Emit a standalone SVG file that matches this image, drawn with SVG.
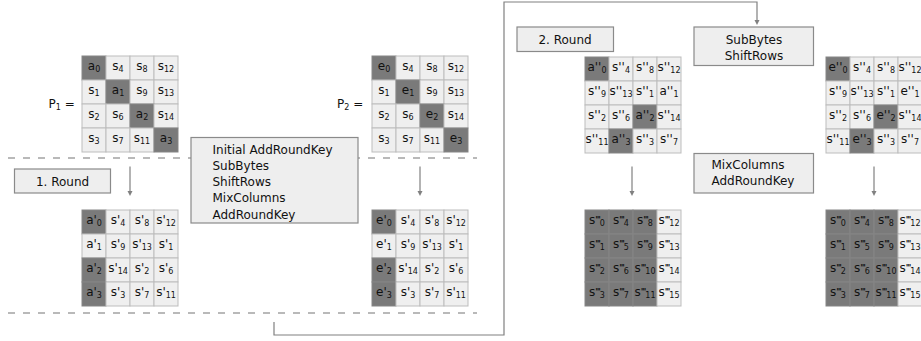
<svg xmlns="http://www.w3.org/2000/svg" width="921" height="341" viewBox="0 0 921 341">
  <style>
    text { font-family: "DejaVu Sans", "Noto Sans", sans-serif; font-size: 12px; fill: #111; }
    .m text { text-anchor: middle; }
    .c { fill: #efefef; stroke: #bdbdbd; stroke-width: 1; }
    .d { fill: #7a7a7a; stroke: #858585; stroke-width: 1; }
    .b { font-size: 8px; }
    .p { font-size: 8.5px; letter-spacing: -1.1px; font-weight: bold; }
    .box { fill: #eeeeee; stroke: #8a8a8a; stroke-width: 1.2; }
    .dash { stroke: #a3a3a3; stroke-width: 1.3; stroke-dasharray: 7 8; fill: none; }
    .ln { stroke: #808080; stroke-width: 1.2; fill: none; }
    .ah { fill: #808080; }
  </style>

  <!-- round separators -->
  <line class="dash" x1="8" y1="158" x2="477" y2="158"/>
  <line class="dash" x1="8" y1="313" x2="477" y2="313"/>

  <!-- connectors -->
  <g id="connectors">
    <path class="ln" d="M274,322 V335 H504 V2 H757 V20"/>
    <path class="ah" d="M754.5,20 L759.5,20 L757,25 Z"/>
    <line class="ln" x1="130" y1="166.5" x2="130" y2="191"/>
    <path class="ah" d="M127.5,191 L132.5,191 L130,196 Z"/>
    <line class="ln" x1="420" y1="166.5" x2="420" y2="191"/>
    <path class="ah" d="M417.5,191 L422.5,191 L420,196 Z"/>
    <line class="ln" x1="632" y1="166.5" x2="632" y2="191"/>
    <path class="ah" d="M629.5,191 L634.5,191 L632,196 Z"/>
    <line class="ln" x1="874" y1="166.5" x2="874" y2="191"/>
    <path class="ah" d="M871.5,191 L876.5,191 L874,196 Z"/>
  </g>

  <!-- labels -->
  <g id="label-p1"><text x="48.5" y="108">P<tspan class="b" dy="2">1</tspan><tspan dy="-2"> =</tspan></text></g>
  <g id="label-p2"><text x="337" y="108">P<tspan class="b" dy="2">2</tspan><tspan dy="-2"> =</tspan></text></g>

  <!-- step boxes -->
  <g id="round1">
    <rect class="box" x="14.5" y="169" width="96" height="24"/>
    <text x="62.5" y="185.5" text-anchor="middle">1. Round</text>
  </g>
  <g id="round2">
    <rect class="box" x="517" y="27" width="96.5" height="24.5"/>
    <text x="565" y="43.5" text-anchor="middle">2. Round</text>
  </g>
  <g id="ops-initial">
    <rect class="box" x="191" y="137.5" width="167" height="85.5"/>
    <text x="212.5" y="153.5">Initial AddRoundKey</text>
    <text x="212.5" y="169.75">SubBytes</text>
    <text x="212.5" y="186">ShiftRows</text>
    <text x="212.5" y="202.25">MixColumns</text>
    <text x="212.5" y="218.5">AddRoundKey</text>
  </g>
  <g id="ops-sub-shift">
    <rect class="box" x="694" y="27" width="119.5" height="38.5"/>
    <text x="754" y="44" text-anchor="middle">SubBytes</text>
    <text x="754" y="60" text-anchor="middle">ShiftRows</text>
  </g>
  <g id="ops-mix-add">
    <rect class="box" x="694" y="153.5" width="119.5" height="39.5"/>
    <text x="711.5" y="168.5">MixColumns</text>
    <text x="711.5" y="185">AddRoundKey</text>
  </g>

  <!-- state P1 -->
  <g id="state-p1" class="m">
    <rect class="d" x="82" y="56" width="24" height="24"/><rect class="c" x="106" y="56" width="24" height="24"/><rect class="c" x="130" y="56" width="24" height="24"/><rect class="c" x="154" y="56" width="24" height="24"/>
    <rect class="c" x="82" y="80" width="24" height="24"/><rect class="d" x="106" y="80" width="24" height="24"/><rect class="c" x="130" y="80" width="24" height="24"/><rect class="c" x="154" y="80" width="24" height="24"/>
    <rect class="c" x="82" y="104" width="24" height="24"/><rect class="c" x="106" y="104" width="24" height="24"/><rect class="d" x="130" y="104" width="24" height="24"/><rect class="c" x="154" y="104" width="24" height="24"/>
    <rect class="c" x="82" y="128" width="24" height="24"/><rect class="c" x="106" y="128" width="24" height="24"/><rect class="c" x="130" y="128" width="24" height="24"/><rect class="d" x="154" y="128" width="24" height="24"/>
    <text x="94" y="70">a<tspan class="b" dy="2">0</tspan></text><text x="118" y="70">s<tspan class="b" dy="2">4</tspan></text><text x="142" y="70">s<tspan class="b" dy="2">8</tspan></text><text x="166" y="70">s<tspan class="b" dy="2">12</tspan></text>
    <text x="94" y="94">s<tspan class="b" dy="2">1</tspan></text><text x="118" y="94">a<tspan class="b" dy="2">1</tspan></text><text x="142" y="94">s<tspan class="b" dy="2">9</tspan></text><text x="166" y="94">s<tspan class="b" dy="2">13</tspan></text>
    <text x="94" y="118">s<tspan class="b" dy="2">2</tspan></text><text x="118" y="118">s<tspan class="b" dy="2">6</tspan></text><text x="142" y="118">a<tspan class="b" dy="2">2</tspan></text><text x="166" y="118">s<tspan class="b" dy="2">14</tspan></text>
    <text x="94" y="142">s<tspan class="b" dy="2">3</tspan></text><text x="118" y="142">s<tspan class="b" dy="2">7</tspan></text><text x="142" y="142">s<tspan class="b" dy="2">11</tspan></text><text x="166" y="142">a<tspan class="b" dy="2">3</tspan></text>
  </g>

  <!-- state P1 after round 1 -->
  <g id="state-p1-r1" class="m">
    <rect class="d" x="82" y="210" width="24" height="24"/><rect class="c" x="106" y="210" width="24" height="24"/><rect class="c" x="130" y="210" width="24" height="24"/><rect class="c" x="154" y="210" width="24" height="24"/>
    <rect class="c" x="82" y="234" width="24" height="24"/><rect class="c" x="106" y="234" width="24" height="24"/><rect class="c" x="130" y="234" width="24" height="24"/><rect class="c" x="154" y="234" width="24" height="24"/>
    <rect class="d" x="82" y="258" width="24" height="24"/><rect class="c" x="106" y="258" width="24" height="24"/><rect class="c" x="130" y="258" width="24" height="24"/><rect class="c" x="154" y="258" width="24" height="24"/>
    <rect class="d" x="82" y="282" width="24" height="24"/><rect class="c" x="106" y="282" width="24" height="24"/><rect class="c" x="130" y="282" width="24" height="24"/><rect class="c" x="154" y="282" width="24" height="24"/>
    <text x="94" y="224">a'<tspan class="b" dy="2">0</tspan></text><text x="118" y="224">s'<tspan class="b" dy="2">4</tspan></text><text x="142" y="224">s'<tspan class="b" dy="2">8</tspan></text><text x="166" y="224">s'<tspan class="b" dy="2">12</tspan></text>
    <text x="94" y="248">a'<tspan class="b" dy="2">1</tspan></text><text x="118" y="248">s'<tspan class="b" dy="2">9</tspan></text><text x="142" y="248">s'<tspan class="b" dy="2">13</tspan></text><text x="166" y="248">s'<tspan class="b" dy="2">1</tspan></text>
    <text x="94" y="272">a'<tspan class="b" dy="2">2</tspan></text><text x="118" y="272">s'<tspan class="b" dy="2">14</tspan></text><text x="142" y="272">s'<tspan class="b" dy="2">2</tspan></text><text x="166" y="272">s'<tspan class="b" dy="2">6</tspan></text>
    <text x="94" y="296">a'<tspan class="b" dy="2">3</tspan></text><text x="118" y="296">s'<tspan class="b" dy="2">3</tspan></text><text x="142" y="296">s'<tspan class="b" dy="2">7</tspan></text><text x="166" y="296">s'<tspan class="b" dy="2">11</tspan></text>
  </g>

  <!-- state P2 -->
  <g id="state-p2" class="m">
    <rect class="d" x="372" y="56" width="24" height="24"/><rect class="c" x="396" y="56" width="24" height="24"/><rect class="c" x="420" y="56" width="24" height="24"/><rect class="c" x="444" y="56" width="24" height="24"/>
    <rect class="c" x="372" y="80" width="24" height="24"/><rect class="d" x="396" y="80" width="24" height="24"/><rect class="c" x="420" y="80" width="24" height="24"/><rect class="c" x="444" y="80" width="24" height="24"/>
    <rect class="c" x="372" y="104" width="24" height="24"/><rect class="c" x="396" y="104" width="24" height="24"/><rect class="d" x="420" y="104" width="24" height="24"/><rect class="c" x="444" y="104" width="24" height="24"/>
    <rect class="c" x="372" y="128" width="24" height="24"/><rect class="c" x="396" y="128" width="24" height="24"/><rect class="c" x="420" y="128" width="24" height="24"/><rect class="d" x="444" y="128" width="24" height="24"/>
    <text x="384" y="70">e<tspan class="b" dy="2">0</tspan></text><text x="408" y="70">s<tspan class="b" dy="2">4</tspan></text><text x="432" y="70">s<tspan class="b" dy="2">8</tspan></text><text x="456" y="70">s<tspan class="b" dy="2">12</tspan></text>
    <text x="384" y="94">s<tspan class="b" dy="2">1</tspan></text><text x="408" y="94">e<tspan class="b" dy="2">1</tspan></text><text x="432" y="94">s<tspan class="b" dy="2">9</tspan></text><text x="456" y="94">s<tspan class="b" dy="2">13</tspan></text>
    <text x="384" y="118">s<tspan class="b" dy="2">2</tspan></text><text x="408" y="118">s<tspan class="b" dy="2">6</tspan></text><text x="432" y="118">e<tspan class="b" dy="2">2</tspan></text><text x="456" y="118">s<tspan class="b" dy="2">14</tspan></text>
    <text x="384" y="142">s<tspan class="b" dy="2">3</tspan></text><text x="408" y="142">s<tspan class="b" dy="2">7</tspan></text><text x="432" y="142">s<tspan class="b" dy="2">11</tspan></text><text x="456" y="142">e<tspan class="b" dy="2">3</tspan></text>
  </g>

  <!-- state P2 after round 1 -->
  <g id="state-p2-r1" class="m">
    <rect class="d" x="372" y="210" width="24" height="24"/><rect class="c" x="396" y="210" width="24" height="24"/><rect class="c" x="420" y="210" width="24" height="24"/><rect class="c" x="444" y="210" width="24" height="24"/>
    <rect class="c" x="372" y="234" width="24" height="24"/><rect class="c" x="396" y="234" width="24" height="24"/><rect class="c" x="420" y="234" width="24" height="24"/><rect class="c" x="444" y="234" width="24" height="24"/>
    <rect class="d" x="372" y="258" width="24" height="24"/><rect class="c" x="396" y="258" width="24" height="24"/><rect class="c" x="420" y="258" width="24" height="24"/><rect class="c" x="444" y="258" width="24" height="24"/>
    <rect class="d" x="372" y="282" width="24" height="24"/><rect class="c" x="396" y="282" width="24" height="24"/><rect class="c" x="420" y="282" width="24" height="24"/><rect class="c" x="444" y="282" width="24" height="24"/>
    <text x="384" y="224">e'<tspan class="b" dy="2">0</tspan></text><text x="408" y="224">s'<tspan class="b" dy="2">4</tspan></text><text x="432" y="224">s'<tspan class="b" dy="2">8</tspan></text><text x="456" y="224">s'<tspan class="b" dy="2">12</tspan></text>
    <text x="384" y="248">e'<tspan class="b" dy="2">1</tspan></text><text x="408" y="248">s'<tspan class="b" dy="2">9</tspan></text><text x="432" y="248">s'<tspan class="b" dy="2">13</tspan></text><text x="456" y="248">s'<tspan class="b" dy="2">1</tspan></text>
    <text x="384" y="272">e'<tspan class="b" dy="2">2</tspan></text><text x="408" y="272">s'<tspan class="b" dy="2">14</tspan></text><text x="432" y="272">s'<tspan class="b" dy="2">2</tspan></text><text x="456" y="272">s'<tspan class="b" dy="2">6</tspan></text>
    <text x="384" y="296">e'<tspan class="b" dy="2">3</tspan></text><text x="408" y="296">s'<tspan class="b" dy="2">3</tspan></text><text x="432" y="296">s'<tspan class="b" dy="2">7</tspan></text><text x="456" y="296">s'<tspan class="b" dy="2">11</tspan></text>
  </g>

  <!-- state P1 in round 2, after SubBytes/ShiftRows -->
  <g id="state-p1-r2a" class="m">
    <rect class="d" x="585" y="57" width="24" height="24"/><rect class="c" x="609" y="57" width="24" height="24"/><rect class="c" x="633" y="57" width="24" height="24"/><rect class="c" x="657" y="57" width="24" height="24"/>
    <rect class="c" x="585" y="81" width="24" height="24"/><rect class="c" x="609" y="81" width="24" height="24"/><rect class="c" x="633" y="81" width="24" height="24"/><rect class="c" x="657" y="81" width="24" height="24"/>
    <rect class="c" x="585" y="105" width="24" height="24"/><rect class="c" x="609" y="105" width="24" height="24"/><rect class="d" x="633" y="105" width="24" height="24"/><rect class="c" x="657" y="105" width="24" height="24"/>
    <rect class="c" x="585" y="129" width="24" height="24"/><rect class="d" x="609" y="129" width="24" height="24"/><rect class="c" x="633" y="129" width="24" height="24"/><rect class="c" x="657" y="129" width="24" height="24"/>
    <text x="597" y="71">a''<tspan class="b" dy="2">0</tspan></text><text x="621" y="71">s''<tspan class="b" dy="2">4</tspan></text><text x="645" y="71">s''<tspan class="b" dy="2">8</tspan></text><text x="669" y="71">s''<tspan class="b" dy="2">12</tspan></text>
    <text x="597" y="95">s''<tspan class="b" dy="2">9</tspan></text><text x="621" y="95">s''<tspan class="b" dy="2">13</tspan></text><text x="645" y="95">s''<tspan class="b" dy="2">1</tspan></text><text x="669" y="95">a''<tspan class="b" dy="2">1</tspan></text>
    <text x="597" y="119">s''<tspan class="b" dy="2">2</tspan></text><text x="621" y="119">s''<tspan class="b" dy="2">6</tspan></text><text x="645" y="119">a''<tspan class="b" dy="2">2</tspan></text><text x="669" y="119">s''<tspan class="b" dy="2">14</tspan></text>
    <text x="597" y="143">s''<tspan class="b" dy="2">11</tspan></text><text x="621" y="143">a''<tspan class="b" dy="2">3</tspan></text><text x="645" y="143">s''<tspan class="b" dy="2">3</tspan></text><text x="669" y="143">s''<tspan class="b" dy="2">7</tspan></text>
  </g>

  <!-- state P2 in round 2, after SubBytes/ShiftRows -->
  <g id="state-p2-r2a" class="m">
    <rect class="d" x="826" y="57" width="24" height="24"/><rect class="c" x="850" y="57" width="24" height="24"/><rect class="c" x="874" y="57" width="24" height="24"/><rect class="c" x="898" y="57" width="24" height="24"/>
    <rect class="c" x="826" y="81" width="24" height="24"/><rect class="c" x="850" y="81" width="24" height="24"/><rect class="c" x="874" y="81" width="24" height="24"/><rect class="c" x="898" y="81" width="24" height="24"/>
    <rect class="c" x="826" y="105" width="24" height="24"/><rect class="c" x="850" y="105" width="24" height="24"/><rect class="d" x="874" y="105" width="24" height="24"/><rect class="c" x="898" y="105" width="24" height="24"/>
    <rect class="c" x="826" y="129" width="24" height="24"/><rect class="d" x="850" y="129" width="24" height="24"/><rect class="c" x="874" y="129" width="24" height="24"/><rect class="c" x="898" y="129" width="24" height="24"/>
    <text x="838" y="71">e''<tspan class="b" dy="2">0</tspan></text><text x="862" y="71">s''<tspan class="b" dy="2">4</tspan></text><text x="886" y="71">s''<tspan class="b" dy="2">8</tspan></text><text x="910" y="71">s''<tspan class="b" dy="2">12</tspan></text>
    <text x="838" y="95">s''<tspan class="b" dy="2">9</tspan></text><text x="862" y="95">s''<tspan class="b" dy="2">13</tspan></text><text x="886" y="95">s''<tspan class="b" dy="2">1</tspan></text><text x="910" y="95">e''<tspan class="b" dy="2">1</tspan></text>
    <text x="838" y="119">s''<tspan class="b" dy="2">2</tspan></text><text x="862" y="119">s''<tspan class="b" dy="2">6</tspan></text><text x="886" y="119">e''<tspan class="b" dy="2">2</tspan></text><text x="910" y="119">s''<tspan class="b" dy="2">14</tspan></text>
    <text x="838" y="143">s''<tspan class="b" dy="2">11</tspan></text><text x="862" y="143">e''<tspan class="b" dy="2">3</tspan></text><text x="886" y="143">s''<tspan class="b" dy="2">3</tspan></text><text x="910" y="143">s''<tspan class="b" dy="2">7</tspan></text>
  </g>

  <!-- state P1 after round 2 -->
  <g id="state-p1-r2b" class="m">
    <rect class="d" x="585" y="210" width="24" height="24"/><rect class="d" x="609" y="210" width="24" height="24"/><rect class="d" x="633" y="210" width="24" height="24"/><rect class="c" x="657" y="210" width="24" height="24"/>
    <rect class="d" x="585" y="234" width="24" height="24"/><rect class="d" x="609" y="234" width="24" height="24"/><rect class="d" x="633" y="234" width="24" height="24"/><rect class="c" x="657" y="234" width="24" height="24"/>
    <rect class="d" x="585" y="258" width="24" height="24"/><rect class="d" x="609" y="258" width="24" height="24"/><rect class="d" x="633" y="258" width="24" height="24"/><rect class="c" x="657" y="258" width="24" height="24"/>
    <rect class="d" x="585" y="282" width="24" height="24"/><rect class="d" x="609" y="282" width="24" height="24"/><rect class="d" x="633" y="282" width="24" height="24"/><rect class="c" x="657" y="282" width="24" height="24"/>
    <text x="597" y="224">s<tspan class="p" dy="-1.5">'''</tspan><tspan class="b" dy="3.5">0</tspan></text><text x="621" y="224">s<tspan class="p" dy="-1.5">'''</tspan><tspan class="b" dy="3.5">4</tspan></text><text x="645" y="224">s<tspan class="p" dy="-1.5">'''</tspan><tspan class="b" dy="3.5">8</tspan></text><text x="669" y="224">s<tspan class="p" dy="-1.5">'''</tspan><tspan class="b" dy="3.5">12</tspan></text>
    <text x="597" y="248">s<tspan class="p" dy="-1.5">'''</tspan><tspan class="b" dy="3.5">1</tspan></text><text x="621" y="248">s<tspan class="p" dy="-1.5">'''</tspan><tspan class="b" dy="3.5">5</tspan></text><text x="645" y="248">s<tspan class="p" dy="-1.5">'''</tspan><tspan class="b" dy="3.5">9</tspan></text><text x="669" y="248">s<tspan class="p" dy="-1.5">'''</tspan><tspan class="b" dy="3.5">13</tspan></text>
    <text x="597" y="272">s<tspan class="p" dy="-1.5">'''</tspan><tspan class="b" dy="3.5">2</tspan></text><text x="621" y="272">s<tspan class="p" dy="-1.5">'''</tspan><tspan class="b" dy="3.5">6</tspan></text><text x="645" y="272">s<tspan class="p" dy="-1.5">'''</tspan><tspan class="b" dy="3.5">10</tspan></text><text x="669" y="272">s<tspan class="p" dy="-1.5">'''</tspan><tspan class="b" dy="3.5">14</tspan></text>
    <text x="597" y="296">s<tspan class="p" dy="-1.5">'''</tspan><tspan class="b" dy="3.5">3</tspan></text><text x="621" y="296">s<tspan class="p" dy="-1.5">'''</tspan><tspan class="b" dy="3.5">7</tspan></text><text x="645" y="296">s<tspan class="p" dy="-1.5">'''</tspan><tspan class="b" dy="3.5">11</tspan></text><text x="669" y="296">s<tspan class="p" dy="-1.5">'''</tspan><tspan class="b" dy="3.5">15</tspan></text>
  </g>

  <!-- state P2 after round 2 -->
  <g id="state-p2-r2b" class="m">
    <rect class="d" x="826" y="210" width="24" height="24"/><rect class="d" x="850" y="210" width="24" height="24"/><rect class="d" x="874" y="210" width="24" height="24"/><rect class="c" x="898" y="210" width="24" height="24"/>
    <rect class="d" x="826" y="234" width="24" height="24"/><rect class="d" x="850" y="234" width="24" height="24"/><rect class="d" x="874" y="234" width="24" height="24"/><rect class="c" x="898" y="234" width="24" height="24"/>
    <rect class="d" x="826" y="258" width="24" height="24"/><rect class="d" x="850" y="258" width="24" height="24"/><rect class="d" x="874" y="258" width="24" height="24"/><rect class="c" x="898" y="258" width="24" height="24"/>
    <rect class="d" x="826" y="282" width="24" height="24"/><rect class="d" x="850" y="282" width="24" height="24"/><rect class="d" x="874" y="282" width="24" height="24"/><rect class="c" x="898" y="282" width="24" height="24"/>
    <text x="838" y="224">s<tspan class="p" dy="-1.5">'''</tspan><tspan class="b" dy="3.5">0</tspan></text><text x="862" y="224">s<tspan class="p" dy="-1.5">'''</tspan><tspan class="b" dy="3.5">4</tspan></text><text x="886" y="224">s<tspan class="p" dy="-1.5">'''</tspan><tspan class="b" dy="3.5">8</tspan></text><text x="910" y="224">s<tspan class="p" dy="-1.5">'''</tspan><tspan class="b" dy="3.5">12</tspan></text>
    <text x="838" y="248">s<tspan class="p" dy="-1.5">'''</tspan><tspan class="b" dy="3.5">1</tspan></text><text x="862" y="248">s<tspan class="p" dy="-1.5">'''</tspan><tspan class="b" dy="3.5">5</tspan></text><text x="886" y="248">s<tspan class="p" dy="-1.5">'''</tspan><tspan class="b" dy="3.5">9</tspan></text><text x="910" y="248">s<tspan class="p" dy="-1.5">'''</tspan><tspan class="b" dy="3.5">13</tspan></text>
    <text x="838" y="272">s<tspan class="p" dy="-1.5">'''</tspan><tspan class="b" dy="3.5">2</tspan></text><text x="862" y="272">s<tspan class="p" dy="-1.5">'''</tspan><tspan class="b" dy="3.5">6</tspan></text><text x="886" y="272">s<tspan class="p" dy="-1.5">'''</tspan><tspan class="b" dy="3.5">10</tspan></text><text x="910" y="272">s<tspan class="p" dy="-1.5">'''</tspan><tspan class="b" dy="3.5">14</tspan></text>
    <text x="838" y="296">s<tspan class="p" dy="-1.5">'''</tspan><tspan class="b" dy="3.5">3</tspan></text><text x="862" y="296">s<tspan class="p" dy="-1.5">'''</tspan><tspan class="b" dy="3.5">7</tspan></text><text x="886" y="296">s<tspan class="p" dy="-1.5">'''</tspan><tspan class="b" dy="3.5">11</tspan></text><text x="910" y="296">s<tspan class="p" dy="-1.5">'''</tspan><tspan class="b" dy="3.5">15</tspan></text>
  </g>
</svg>
